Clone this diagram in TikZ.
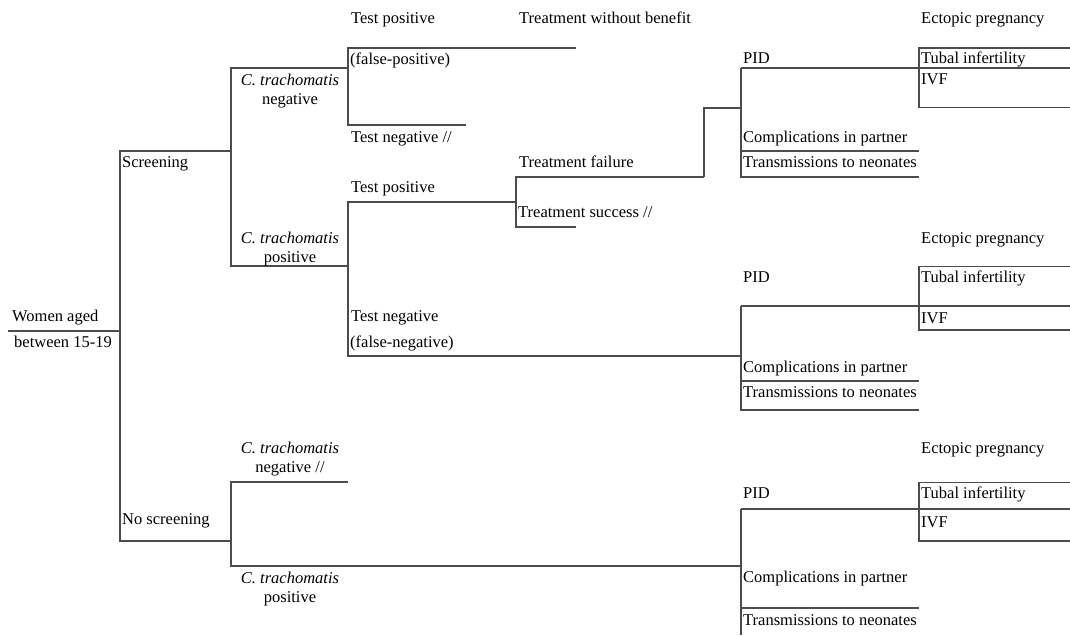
\documentclass[tikz,border=0pt]{standalone}
\usepackage{fontspec}
\setmainfont{Liberation Serif}

\begin{document}
\begin{tikzpicture}[x=1pt,y=-1pt,
font=\fontsize{16.5}{19.5}\selectfont,
branch/.style={draw=black!70,line width=1.4pt},
lbl/.style={anchor=west,inner sep=0pt,text height=11pt,text depth=3.5pt,yshift=-2pt},
ct/.style={align=center,inner sep=0pt,yshift=-2pt}]
\useasboundingbox (0,0) rectangle (1070,635);
\coordinate (rim) at (1070,0);
\coordinate (sub) at (919,0);
\coordinate (w0) at (8,331);
\coordinate (w1) at (120,331);
\coordinate (scr) at (231,151);
\coordinate (nos) at (231,541);
\coordinate (sneg) at (348,68);
\coordinate (spos) at (348,266);
\coordinate (fpos) at (576,48);
\coordinate (tneg) at (466,125);
\coordinate (tpos) at (516,202);
\coordinate (fneg) at (741,356);
\coordinate (tfail) at (704,177);
\coordinate (tsucc) at (576,227);
\coordinate (join) at (741,108);
\coordinate (nneg) at (348,482);
\coordinate (npos) at (741,566);
\coordinate (pA) at (741,68);
\coordinate (cA) at (741,151);
\coordinate (nA) at (741,177);
\coordinate (eA) at (919,48);
\coordinate (iA) at (919,107.5);
\coordinate (pB) at (741,306);
\coordinate (cB) at (741,381);
\coordinate (nB) at (741,410);
\coordinate (eB) at (919,266.5);
\coordinate (iB) at (919,330);
\coordinate (pC) at (741,509);
\coordinate (cC) at (741,608);
\coordinate (nC) at (741,635);
\coordinate (eC) at (919,482.5);
\coordinate (iC) at (919,541);

\path[branch] (w0) -- (w1) |- (scr);
\path[branch] (w1) |- (nos);
\path[branch] (scr) |- (sneg);
\path[branch] (scr) |- (spos);
\path[branch] (sneg) |- (fpos);
\path[branch] (sneg) |- (tneg);
\path[branch] (spos) |- (tpos);
\path[branch] (spos) |- (fneg);
\path[branch] (tpos) |- (tfail);
\path[branch] (tpos) |- (tsucc);
\path[branch] (tfail) |- (join);
\path[branch] (nos) |- (nneg);
\path[branch] (nos) |- (npos);

\path[branch] (pA) -- (pA -| rim);
\path[branch] (pA) -- (nA) -- (nA -| sub);
\path[branch] (cA) -- (cA -| sub);
\path[branch] (eA -| rim) -- (eA) -- (iA) -- (iA -| rim);
\path[branch] (pB) -- (pB -| rim);
\path[branch] (pB) -- (nB) -- (nB -| sub);
\path[branch] (cB) -- (cB -| sub);
\path[branch] (eB -| rim) -- (eB) -- (iB) -- (iB -| rim);
\path[branch] (pC) -- (pC -| rim);
\path[branch] (pC) -- (nC);
\path[branch] (cC) -- (cC -| sub);
\path[branch] (eC -| rim) -- (eC) -- (iC) -- (iC -| rim);

\node[lbl] (women) at (12,316) {Women aged};
\node[lbl] (age) at (14,342) {between 15-19};
\node[lbl] (screen) at (122,162) {Screening};
\node[lbl] (noscreen) at (122,519) {No screening};
\node[ct] (ctneg) at (290,89) {\textit{C. trachomatis}\\negative};
\node[ct] (ctpos) at (290,247) {\textit{C. trachomatis}\\positive};
\node[ct] (ctnegB) at (290,457) {\textit{C. trachomatis}\\negative //};
\node[ct] (ctposB) at (290,587) {\textit{C. trachomatis}\\positive};
\node[lbl] (testpos) at (351,18) {Test positive};
\node[lbl] (falsepos) at (350,59) {(false-positive)};
\node[lbl] (testneg) at (351,137) {Test negative //};
\node[lbl] (testposB) at (351,187) {Test positive};
\node[lbl] (testnegB) at (351,316) {Test negative};
\node[lbl] (falseneg) at (350,342) {(false-negative)};
\node[lbl] (nobenefit) at (519,18) {Treatment without benefit};
\node[lbl] (failure) at (519,162) {Treatment failure};
\node[lbl] (success) at (518,212) {Treatment success //};

\node[lbl] (ectA) at (921,18) {Ectopic pregnancy};
\node[lbl] (pidA) at (743,58) {PID};
\node[lbl] (tubA) at (921,58) {Tubal infertility};
\node[lbl] (ivfA) at (921,79) {IVF};
\node[lbl] (compA) at (743,137) {Complications in partner};
\node[lbl] (transA) at (743,162) {Transmissions to neonates};
\node[lbl] (ectB) at (921,238) {Ectopic pregnancy};
\node[lbl] (pidB) at (743,277) {PID};
\node[lbl] (tubB) at (921,277) {Tubal infertility};
\node[lbl] (ivfB) at (921,318) {IVF};
\node[lbl] (compB) at (743,367) {Complications in partner};
\node[lbl] (transB) at (743,392) {Transmissions to neonates};
\node[lbl] (ectC) at (921,448) {Ectopic pregnancy};
\node[lbl] (pidC) at (743,493) {PID};
\node[lbl] (tubC) at (921,493) {Tubal infertility};
\node[lbl] (ivfC) at (921,522) {IVF};
\node[lbl] (compC) at (743,577) {Complications in partner};
\node[lbl] (transC) at (743,620) {Transmissions to neonates};
\end{tikzpicture}
\end{document}
